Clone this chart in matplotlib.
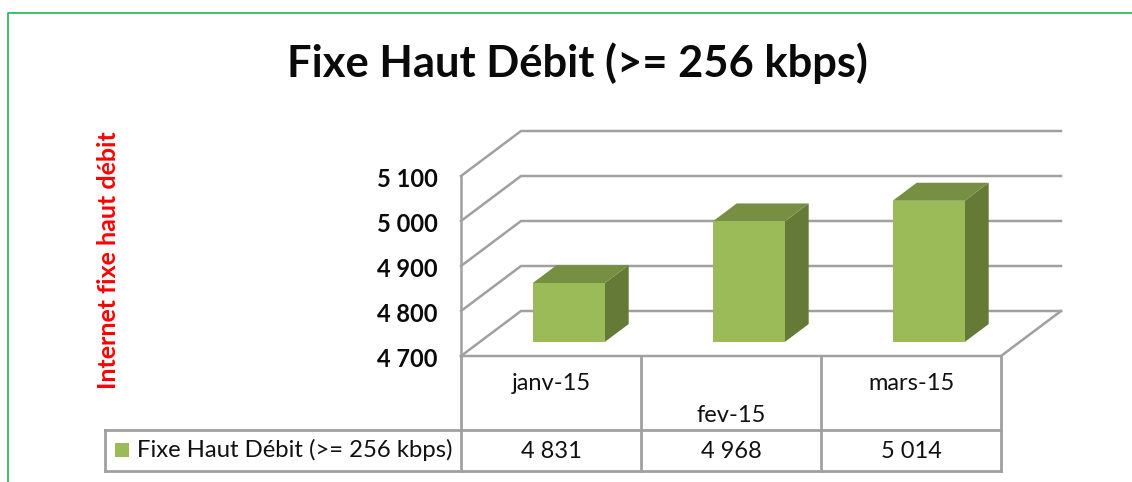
import numpy as np
import matplotlib
matplotlib.use("Agg")
import matplotlib.pyplot as plt
from matplotlib.patches import Polygon, Rectangle
from matplotlib.transforms import ScaledTranslation

plt.rcParams['font.family'] = ['Lato', 'DejaVu Sans']

# data
months    = ["janv-15", "fev-15", "mars-15"]
values    = [4831, 4968, 5014]
val_text  = ["4 831", "4 968", "5 014"]
yticks    = [4700, 4800, 4900, 5000, 5100]
ylabels   = ["4 700", "4 800", "4 900", "5 000", "5 100"]
series    = "Fixe Haut Débit (>= 256 kbps)"

W, H      = 1132, 482
x0, x1    = 461, 1001     # front plane, pixels
ytop, ybot = 176, 356

GRID  = "#A0A0A0"
FRONT = "#9BBB59"
TOP   = "#778F42"
SIDE  = "#667A38"
TEXT  = "#111111"

fig = plt.figure(figsize=(W/100, H/100), dpi=100, facecolor="white")
ax  = fig.add_axes([x0/W, 1-ybot/H, (x1-x0)/W, (ybot-ytop)/H])
ax.set_xlim(0, 3)
ax.set_ylim(4700, 5100)
ax.patch.set_visible(False)
for s in ax.spines.values():
    s.set_visible(False)

ax.set_xticks([])
ax.set_yticks(yticks)
ax.set_yticklabels(ylabels, fontsize=17, fontweight="bold", color="#0a0a0a")
ax.tick_params(axis="y", length=0, pad=17)
# labels sit a little under their gridline
for lab in ax.get_yticklabels():
    lab.set_transform(lab.get_transform() + ScaledTranslation(0, -1.5/100, fig.dpi_scale_trans))

# depth of the 3d box, in data units
dx = 60 * 3 / (x1 - x0)
dy = 45 * 400 / (ybot - ytop)

def line(xs, ys, lw=1.8):
    ax.plot(xs, ys, color=GRID, linewidth=lw, clip_on=False, solid_capstyle="projecting", zorder=1)

# pixel coords -> data coords, for the table and frame
def px(x, y):
    return (x - x0) * 3 / (x1 - x0), 4700 + (ybot - y) * 400 / (ybot - ytop)

# walls
for v in yticks:
    line([0, dx, 3 + dx], [v, v + dy, v + dy])
line([0, 0], [4700, 5100])
line([0, 3, 3 + dx], [4700, 4700, 4700 + dy])

# bars
bar_w = 0.4
off   = 0.31
d     = 0.40
for i, v in enumerate(values):
    left  = i + 0.3 + off * dx - 0.005
    right = left + bar_w
    b     = 4700 + off * dy
    t     = b + v - 4700
    ax.add_patch(Polygon([(right, b), (right + d*dx, b + d*dy), (right + d*dx, t + d*dy), (right, t)],
                         facecolor=SIDE, edgecolor="none", clip_on=False, zorder=3))
    ax.add_patch(Polygon([(left, t), (left + d*dx, t + d*dy), (right + d*dx, t + d*dy), (right, t)],
                         facecolor=TOP, edgecolor="none", clip_on=False, zorder=3))
    ax.add_patch(Rectangle((left, b), bar_w, t - b, facecolor=FRONT, edgecolor="none", clip_on=False, zorder=4))

# data table
y_mid, y_low = px(0, 430)[1], px(0, 471)[1]
x_leg = px(105, 0)[0]
for i in range(4):
    line([i, i], [4700, y_low], lw=2.0)
line([x_leg, 3], [y_mid, y_mid], lw=2.0)
line([x_leg, 3], [y_low, y_low], lw=2.0)
line([x_leg, x_leg], [y_mid, y_low], lw=2.0)

for i, (m, t) in enumerate(zip(months, val_text)):
    ym = px(0, 415)[1] if i == 1 else px(0, 384)[1]
    ax.text(i + 0.5, ym, m, ha="center", va="center", fontsize=17, color=TEXT, clip_on=False)
    ax.text(i + 0.5, px(0, 451)[1], t, ha="center", va="center", fontsize=17, color=TEXT, clip_on=False)

sx, sy = px(115, 457)
sw = px(129, 0)[0] - sx
sh = px(0, 443)[1] - sy
ax.add_patch(Rectangle((sx, sy), sw, sh, facecolor=FRONT, edgecolor="none", clip_on=False))
ax.text(px(137, 0)[0], px(0, 450)[1], series, ha="left", va="center", fontsize=17.2, color=TEXT, clip_on=False)

# title and axis label
fig.text(577/W, 1-63/H, series, ha="center", va="center", fontsize=31.3, fontweight="bold", color="#0a0a0a")
fig.text(108/W, 1-260/H, "Internet fixe haut débit", ha="center", va="center", rotation=90,
         fontsize=18, fontweight="bold", color="#FF0000")

# green outer frame
fig.add_artist(plt.Line2D([7.5/W, 7.5/W, 1], [0, 1-12.5/H, 1-12.5/H], color="#22B357", linewidth=1.2))

fig.savefig("out.png", dpi=100)
